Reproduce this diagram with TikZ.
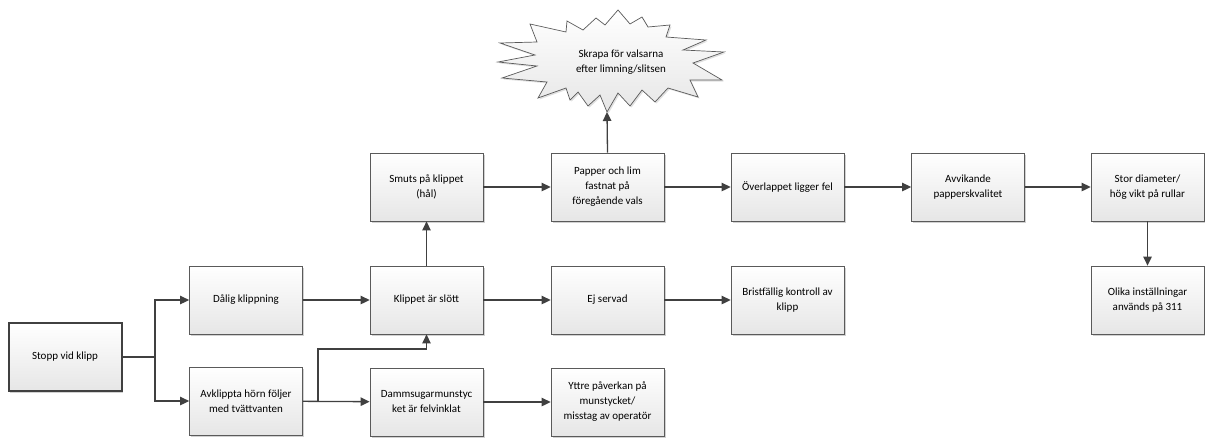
\documentclass[tikz,border=0pt]{standalone}
\usepackage{fontspec}
\setmainfont{Carlito}
\usetikzlibrary{arrows.meta,shadows}
\definecolor{boxline}{HTML}{5A5A5A}
\definecolor{boxbot}{HTML}{E6E6E6}
\definecolor{arrcol}{HTML}{404040}
\tikzset{
  box/.style={draw=boxline, line width=0.8pt, top color=white, bottom color=boxbot,
    minimum width=113pt, minimum height=68pt, align=center, inner sep=1pt,
    font=\fontsize{11}{15}\selectfont,
    drop shadow={shadow xshift=1.5pt, shadow yshift=-1.5pt, fill=black, opacity=0.18}},
  startbox/.style={box, draw=arrcol, line width=2pt, minimum width=113pt, minimum height=68pt},
  arr/.style={draw=arrcol, line width=1.3pt, -{Triangle[length=9pt,width=8.5pt]}},
  ln/.style={draw=arrcol, line width=1.3pt},
  burst/.style={draw=boxline, line width=0.7pt, top color=white, bottom color=boxbot, line join=miter},
  bursttext/.style={align=center, font=\fontsize{11}{15}\selectfont, inner sep=0pt},
}
\begin{document}
\begin{tikzpicture}[x=1pt,y=-1pt]
\useasboundingbox (0,0) rectangle (1205,437);
% starburst
\path[burst, drop shadow={shadow xshift=1.5pt, shadow yshift=-1.5pt, fill=black, opacity=0.12}]
 (618,10) -- (630,24) -- (642,17) -- (648,27) -- (670,25) -- (666,37) -- (706,40) -- (683,50)
 -- (724,52) -- (693,63) -- (722,80) -- (690,80) -- (698,97) -- (668,88) -- (655,102) -- (642,90)
 -- (630,106) -- (618,93) -- (607,112) -- (600,95) -- (588,106) -- (578,92) -- (570,100) -- (566,88)
 -- (538,98) -- (547,82) -- (502,78) -- (537,66) -- (498,62) -- (535,55) -- (500,43) -- (537,42)
 -- (530,24) -- (566,32) -- (567,21) -- (583,30) -- (596,18) -- (605,25) -- cycle;
\node[bursttext] (skrapa) at (621,62) {Skrapa för valsarna\\efter limning/slitsen};
\coordinate (burstbot) at (607,112);

\node[startbox] (stopp) at (65,357) {Stopp vid klipp};
\node[box] (dalig) at (246,300) {Dålig klippning};
\node[box] (avkl) at (246,401) {Avklippta hörn följer\\med tvättvanten};
\node[box] (smuts) at (426.5,187) {Smuts på klippet\\(hål)};
\node[box] (papper) at (607.5,187) {Papper och lim\\fastnat på\\föregående vals};
\node[box] (klippet) at (426.5,300) {Klippet är slött};
\node[box] (ej) at (607.5,300) {Ej servad};
\node[box] (damm) at (426.5,402) {Dammsugarmunstyc\\ket är felvinklat};
\node[box] (yttre) at (607.5,402) {Yttre påverkan på\\munstycket/\\misstag av operatör};
\node[box] (overl) at (787.5,187) {Överlappet ligger fel};
\node[box] (avvik) at (968,187) {Avvikande\\papperskvalitet};
\node[box] (stor) at (1147.5,187) {Stor diameter/\\hög vikt på rullar};
\node[box] (brist) at (787.5,300) {Bristfällig kontroll av\\klipp};
\node[box] (olika) at (1147.5,300) {Olika inställningar\\används på 311};

\coordinate (j1) at (155,357);
\coordinate (j2) at (318,401);
\coordinate (k2) at (318,349);
\draw[ln] (stopp.east) -- (j1);
\draw[arr] (j1) |- (dalig.west);
\draw[arr] (j1) |- (avkl.west);
\draw[arr] (dalig) -- (klippet);
\draw[arr] (avkl) -- (damm);
\draw[arr] (j2) -- (k2) -| (klippet.south);
\draw[arr] (klippet) -- (smuts);
\draw[arr] (klippet) -- (ej);
\draw[arr] (ej) -- (brist);
\draw[arr] (damm) -- (yttre);
\draw[arr] (smuts) -- (papper);
\draw[arr] (papper) -- (overl);
\draw[arr] (overl) -- (avvik);
\draw[arr] (avvik) -- (stor);
\draw[arr] (stor) -- (olika);
\draw[arr] (papper.north) -- (burstbot);
\end{tikzpicture}
\end{document}
